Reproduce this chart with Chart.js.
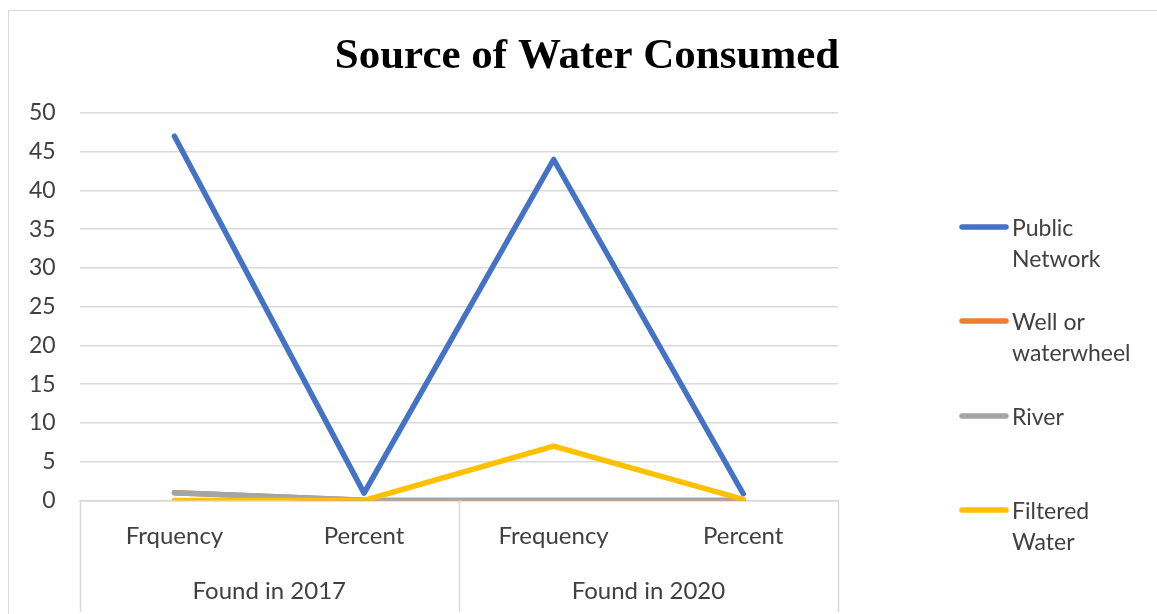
<!DOCTYPE html>
<html>
<head>
<meta charset="utf-8">
<script src="https://cdn.jsdelivr.net/npm/chart.js@4"></script>
<style>
  html, body { margin: 0; padding: 0; background: #fff; overflow: hidden; }
  #frame { position: absolute; left: 8px; top: 10px; width: 1160px; height: 620px; border: 1px solid #d9d9d9; }
  #wrap { position: absolute; left: 0; top: 0; width: 1157px; height: 614px; }
</style>
</head>
<body>
<div id="frame"></div>
<div id="wrap"><canvas id="waterChart"></canvas></div>
<script>
// categories and groups
const categories = ['Frquency', 'Percent', 'Frequency', 'Percent'];
const groupLabels = ['Found in 2017', 'Found in 2020'];

// series values
const publicNetwork = [47, 0.94, 44, 0.86];
const wellOrWaterwheel = [1, 0.02, 0, 0];
const river = [1, 0.02, 0, 0];
const filteredWater = [0, 0, 7, 0.14];

const seriesNames = [['Public', 'Network'], ['Well or', 'waterwheel'], ['River'], ['Filtered', 'Water']];
const seriesColors = ['#4472C4', '#ED7D31', '#A5A5A5', '#FFC000'];

const yTicks = [0, 5, 10, 15, 20, 25, 30, 35, 40, 45, 50];

const labelFont = 'Lato, "Open Sans", sans-serif';
const textColor = '#404040';

// title drawn over the whole canvas
const titlePlugin = {
    id: 'bigTitle',
    afterDraw(chart) {
        const ctx = chart.ctx;
        ctx.save();
        ctx.font = 'bold 43px "Liberation Serif", "Times New Roman", serif';
        ctx.fillStyle = '#000';
        ctx.textAlign = 'center';
        ctx.textBaseline = 'middle';
        ctx.fillText('Source of Water Consumed', 587, 57);
        ctx.restore();
    }
};

// separators between the year groups
const groupLinesPlugin = {
    id: 'groupLines',
    afterDraw(chart) {
        const x = chart.scales.x;
        const x2 = chart.scales.x2;
        const ctx = chart.ctx;
        const half = (x.getPixelForValue(1) - x.getPixelForValue(0)) / 2;
        const edges = [x.getPixelForValue(0) - half, (x.getPixelForValue(1) + x.getPixelForValue(2)) / 2, x.getPixelForValue(3) + half];
        ctx.save();
        ctx.strokeStyle = '#d9d9d9';
        ctx.lineWidth = 1.5;
        edges.forEach(px => {
            ctx.beginPath();
            ctx.moveTo(Math.round(px) + 0.5, chart.chartArea.bottom);
            ctx.lineTo(Math.round(px) + 0.5, x2.bottom);
            ctx.stroke();
        });
        ctx.restore();
    }
};

// legend on the right with wrapped names
const sideLegendPlugin = {
    id: 'sideLegend',
    afterDraw(chart) {
        const ctx = chart.ctx;
        const rows = [227, 321, 416, 510];
        ctx.save();
        ctx.font = '23px ' + labelFont;
        ctx.fillStyle = textColor;
        ctx.textAlign = 'left';
        ctx.textBaseline = 'middle';
        chart.data.datasets.forEach((ds, i) => {
            const y = rows[i];
            ctx.strokeStyle = ds.borderColor;
            ctx.lineWidth = 5.5;
            ctx.lineCap = 'round';
            ctx.beginPath();
            ctx.moveTo(962, y);
            ctx.lineTo(1006, y);
            ctx.stroke();
            seriesNames[i].forEach((line, k) => ctx.fillText(line, 1012, y + 2 + k * 31));
        });
        ctx.restore();
    }
};

function makeDataset(i, values, order) {
    return {
        label: seriesNames[i].join(' '),
        data: values,
        borderColor: seriesColors[i],
        backgroundColor: seriesColors[i],
        borderWidth: 5.5,
        borderCapStyle: 'round',
        borderJoinStyle: 'round',
        pointRadius: 0,
        tension: 0,
        order: order
    };
}

new Chart(document.getElementById('waterChart'), {
    type: 'line',
    data: {
        labels: categories,
        datasets: [
            makeDataset(0, publicNetwork, 4),
            makeDataset(1, wellOrWaterwheel, 3),
            makeDataset(2, river, 2),
            makeDataset(3, filteredWater, 1)
        ]
    },
    options: {
        responsive: true,
        maintainAspectRatio: false,
        animation: false,
        layout: { padding: { left: 5, right: 319, top: 113, bottom: 2 } },
        plugins: {
            legend: { display: false },
            title: { display: false },
            tooltip: { enabled: false }
        },
        scales: {
            x: {
                type: 'category',
                offset: true,
                grid: { display: false, drawTicks: false },
                border: { display: true, color: '#d9d9d9', width: 1.5 },
                ticks: { color: textColor, font: { family: labelFont, size: 24 }, padding: 21, maxRotation: 0 }
            },
            x2: {
                type: 'category',
                labels: groupLabels,
                offset: true,
                position: 'bottom',
                grid: { display: false, drawTicks: false },
                border: { display: false },
                ticks: { color: textColor, font: { family: labelFont, size: 24 }, padding: 6, maxRotation: 0 }
            },
            y: {
                min: 0,
                max: 50,
                afterBuildTicks(scale) { scale.ticks = yTicks.map(v => ({ value: v })); },
                grid: { color: '#d9d9d9', lineWidth: 1.5, drawTicks: false },
                border: { display: false },
                ticks: { color: textColor, font: { family: labelFont, size: 23 }, padding: 24 }
            }
        }
    },
    plugins: [titlePlugin, groupLinesPlugin, sideLegendPlugin]
});
</script>
</body>
</html>
